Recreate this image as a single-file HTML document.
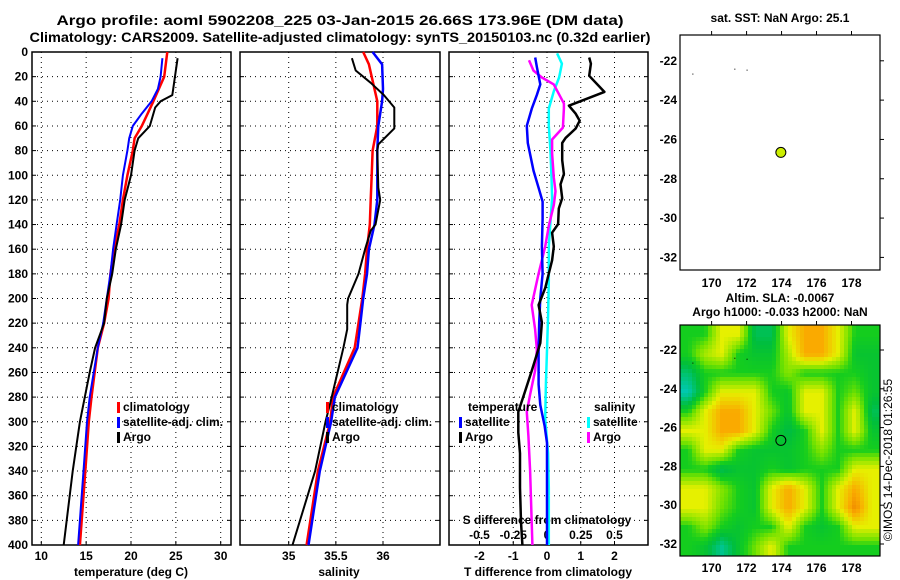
<!DOCTYPE html>
<html><head><meta charset="utf-8"><style>
html,body{margin:0;padding:0;background:#fff;}
svg{display:block;font-family:"Liberation Sans",Arial,sans-serif;font-weight:bold;}
</style></head><body>
<svg id="fig" width="900" height="580" viewBox="0 0 900 580" xmlns="http://www.w3.org/2000/svg">
<text x="340" y="25" font-size="14" text-anchor="middle" textLength="567" lengthAdjust="spacingAndGlyphs">Argo profile: aoml 5902208_225 03-Jan-2015 26.66S 173.96E (DM data)</text>
<text x="340" y="42" font-size="14" text-anchor="middle" textLength="621" lengthAdjust="spacingAndGlyphs">Climatology: CARS2009. Satellite-adjusted climatology: synTS_20150103.nc (0.32d earlier)</text>
<g id="g"></g>
<text x="780" y="22" font-size="12" text-anchor="middle">sat. SST: NaN Argo: 25.1</text>
<text x="780" y="302" font-size="12" text-anchor="middle">Altim. SLA: -0.0067</text>
<text x="780" y="316" font-size="12" text-anchor="middle">Argo h1000: -0.033 h2000: NaN</text>
<text transform="translate(892,460) rotate(-90)" font-size="12" font-weight="normal" text-anchor="middle">©IMOS 14-Dec-2018 01:26:55</text>
</svg>
<script>
// ---- data ----
const depthTicks=[0,20,40,60,80,100,120,140,160,180,200,220,240,260,280,300,320,340,360,380,400];
const tempTicks=[10,15,20,25,30];
const salTicks=[35,35.5,36];
const tdTicks=[-2,-1,0,1,2];
const sdTicks=[-0.5,-0.25,0,0.25,0.5];
const sdTickLabels=["-0.5","-0.25","0","0.25","0.5"];
const tClimDepth=[0,20,40,60,70,80,100,120,140,160,180,200,220,240,280,300,340,400];
const tClim=[24.05,23.7,22.5,21.2,20.4,20.2,19.6,19.1,18.7,18.1,17.7,17.5,17.0,16.3,15.6,15.3,14.9,14.3];
const tSatDepth=[5,20,30,40,50,60,70,80,100,120,140,160,180,200,220,240,280,300,340,400];
const tSat=[23.5,23.3,23.0,22.3,21.2,20.2,19.8,19.6,19.1,18.8,18.4,18.0,17.7,17.3,16.9,16.3,15.4,15.1,14.7,14.1];
const tArgoDepth=[5,30,35,40,45,60,70,80,100,120,140,160,180,200,220,240,260,300,340,400];
const tArgo=[25.2,24.7,24.6,23.3,22.7,22.1,20.8,20.4,20.0,19.3,18.9,18.3,17.9,17.3,17.0,16.0,15.4,14.3,13.5,12.5];
const sClimDepth=[0,10,20,40,60,80,100,120,140,160,180,200,220,240,280,300,340,400];
const sClim=[35.79,35.85,35.88,35.94,35.94,35.89,35.88,35.87,35.86,35.83,35.81,35.78,35.74,35.70,35.47,35.44,35.31,35.19];
const sSatDepth=[0,10,30,40,60,80,100,120,140,160,180,200,220,240,280,300,340,400];
const sSat=[35.89,35.99,36.0,35.99,35.95,35.94,35.94,35.94,35.91,35.85,35.83,35.79,35.76,35.73,35.49,35.45,35.33,35.21];
const sArgoDepth=[5,15,25,35,45,62,75,80,110,120,140,145,160,180,200,205,225,240,285,300,340,400];
const sArgo=[35.67,35.71,35.87,36.01,36.12,36.12,35.95,35.94,35.95,35.97,35.92,35.87,35.81,35.74,35.63,35.62,35.62,35.58,35.44,35.39,35.28,35.04];
const tdArgoDepth=[4.5,9.5,19.3,32.4,43.6,50.1,55.7,62.1,69.7,73.8,87.8,99,107.4,118.6,127,139.6,146.6,157.8,169,180.1,191.3,205.3,219.3,236.1,258.5,275.2,292,308.8,325.6,353.6,381.5,400];
const tdArgo=[1.25,1.3,1.25,1.7,0.65,0.85,0.97,0.85,0.55,0.45,0.45,0.5,0.4,0.45,0.35,0.33,0.15,0.2,0.15,0.05,-0.05,-0.25,-0.15,-0.2,-0.45,-0.65,-0.85,-0.85,-0.8,-0.8,-0.77,-0.73];
const tdSatDepth=[4.5,12.3,26.3,34.7,45.9,59.9,73.8,96.2,110.2,121.4,135.4,157.8,180.1,199.7,219.3,241.7,269.7,286.4,303.2,317.2,400];
const tdSat=[-0.35,-0.3,-0.2,-0.3,-0.45,-0.6,-0.57,-0.4,-0.25,-0.13,-0.13,-0.15,-0.13,-0.2,-0.23,-0.25,-0.25,-0.2,-0.07,0,0];
const sdSatDepth=[1.1,9.5,20.7,31.9,45.9,59.9,79.4,101.8,118.6,138.2,157.8,185.7,213.7,241.7,269.7,297.6,325.6,353.6,400];
const sdSat=[0.075,0.11,0.09,0.05,0.013,0.013,0.025,0.033,0.038,0.025,0.013,0.013,0.008,0,-0.008,-0.013,0.008,0.013,0.013];
const sdArgoDepth=[6.7,15.1,20.7,26.3,41.7,45.9,61.3,71,82.2,101.8,113,124.2,141,157.8,180.1,205.3,224.9,241.7,258.5,278,292,311.6,339.6,381.5,400];
const sdArgo=[-0.133,-0.1,-0.038,0.05,0.125,0.125,0.118,0.038,0.038,0.05,0.063,0.05,0.013,-0.013,-0.063,-0.113,-0.088,-0.075,-0.088,-0.125,-0.15,-0.138,-0.125,-0.113,-0.108];
const lonTicks=[170,172,174,176,178];
const latTicks=[-22,-24,-26,-28,-30,-32];
const argoLon=[173.96], argoLat=[-26.66];
const slaGrid=[
[1.5,1.5,3,3,0.8,0.8,3,4,4,3,1.5,1.5],
[1.5,2.5,3,1.5,1.2,1.2,2.5,4,4,3,1.2,1.2],
[0.6,1.5,1.5,1.5,1.5,1.5,2.2,1.5,1.5,1.5,1.5,1.2],
[0,1.5,3,3,3,1.5,1.3,3,3,1.5,2,1.2],
[1.5,3,4,4,3,2,1.2,3,3,1.5,3,0.8],
[3,3,4,4,3,1.5,0.9,1.5,3,1.5,3,1.2],
[1.5,3,3,1.5,1.2,1.2,1.2,1.5,2.2,1.5,1.5,1.5],
[1.5,1.5,0.8,1.2,1.2,1.5,1.2,1.5,1.5,1.5,3,3],
[3,3,2.2,1.5,1.2,3,4,3,1.5,3,4,3],
[3,3,2,1.5,1.2,3,4,3,1.5,3,4.5,3],
[1.5,2.2,1.5,1.2,1.5,1.5,3,1.5,1.2,1.5,3,3],
[1.5,1.2,0.3,1.2,2,3,1.5,1.5,1.5,1.5,1.5,1.5]];
const dotLon=[168.9,171.3,172.0], dotLat=[-22.65,-22.4,-22.45];

// ---- drawing ----
const NS="http://www.w3.org/2000/svg";
const G=document.getElementById('g');
function el(tag,attrs,parent){const e=document.createElementNS(NS,tag);for(const k in attrs)e.setAttribute(k,attrs[k]);(parent||G).appendChild(e);return e;}
const yTop=52,yBot=545;
function yD(d){return yTop+(d/400)*(yBot-yTop);}
function lin(d0,d1,p0,p1){return v=>p0+(v-d0)/(d1-d0)*(p1-p0);}
const xT=lin(10,30,41.3,220.7);
const xS=lin(35,36,288.7,383);
const xTD=lin(0,1,547,580.75);
const xSD=v=>xTD(v*4);
const panels=[[32,231,'temperature-panel'],[240,440,'salinity-panel'],[449,648,'difference-panel']];

panels.forEach((p,i)=>{
  const r=el('rect',{x:p[0],y:yTop,width:p[1]-p[0],height:yBot-yTop,fill:'#fff',stroke:'#000','stroke-width':1.5});
  
  
  depthTicks.forEach(d=>{
    if(d>0&&d<400){const l=el('line',{x1:p[0],x2:p[1],y1:yD(d),y2:yD(d),stroke:'#000','stroke-dasharray':'1,4'});
    
    }
    el('line',{x1:p[0],x2:p[0]+4,y1:yD(d),y2:yD(d),stroke:'#000'});
    el('line',{x1:p[1],x2:p[1]-4,y1:yD(d),y2:yD(d),stroke:'#000'});
  });
});
depthTicks.forEach(d=>{
  const t=el('text',{x:28,y:yD(d)+4,'font-size':12,'text-anchor':'end'});t.textContent=d;
  
  
});
function vgrid(ticks,sx,labelY,fmt){
  ticks.forEach((v,i)=>{
    const x=sx(v);
    const l=el('line',{x1:x,x2:x,y1:yTop,y2:yBot,stroke:'#000','stroke-dasharray':'1,4'});
    
    
    el('line',{x1:x,x2:x,y1:yBot,y2:yBot-4,stroke:'#000'});
    const t=el('text',{x:x,y:labelY,'font-size':12,'text-anchor':'middle'});t.textContent=fmt?fmt(v,i):v;
    
    
  });
}
vgrid(tempTicks,xT,560);
vgrid(salTicks,xS,560);
vgrid(tdTicks,xTD,560);
sdTicks.forEach((v,i)=>{
  const t=el('text',{x:xSD(v),y:539,'font-size':12,'text-anchor':'middle'});t.textContent=sdTickLabels[i];
  
  
});
[[131,'temperature (deg C)','temperature-axis-title'],[339,'salinity','salinity-axis-title'],[548,'T difference from climatology','t-diff-axis-title']].forEach(a=>{
  const t=el('text',{x:a[0],y:576,'font-size':12,'text-anchor':'middle'});t.textContent=a[1];
  
  
});
const st=el('text',{x:547,y:524,'font-size':12,'text-anchor':'middle'});st.textContent='S difference from climatology';



function line(ds,vs,sx,color,w,name){
  const pts=ds.map((d,i)=>sx(vs[i]).toFixed(1)+','+yD(d).toFixed(1)).join(' ');
  const l=el('polyline',{points:pts,fill:'none',stroke:color,'stroke-width':w,'stroke-linejoin':'round'});
  
  
}
line(tClimDepth,tClim,xT,'#f00',2.5,'temp-climatology-line');
line(tSatDepth,tSat,xT,'#00f',2,'temp-satellite-line');
line(tArgoDepth,tArgo,xT,'#000',2,'temp-argo-line');
line(sClimDepth,sClim,xS,'#f00',2.5,'sal-climatology-line');
line(sSatDepth,sSat,xS,'#00f',2.5,'sal-satellite-line');
line(sArgoDepth,sArgo,xS,'#000',2,'sal-argo-line');
line(sdSatDepth,sdSat,xSD,'#0ff',2.5,'s-diff-satellite-line');
line(sdArgoDepth,sdArgo,xSD,'#f0f',2.5,'s-diff-argo-line');
line(tdSatDepth,tdSat,xTD,'#00f',2.5,'t-diff-satellite-line');
line(tdArgoDepth,tdArgo,xTD,'#000',2.5,'t-diff-argo-line');

function legend(x,y,items,name){
  items.forEach((it,i)=>{
    const yy=y+i*15;
    if(it[1]){el('rect',{x:x,y:yy-9,width:3,height:11,fill:it[1]});}
    const t=el('text',{x:x+(it[1]?6:0),y:yy,'font-size':12});t.textContent=it[0];
    
    
  });
}
legend(117,411,[['climatology','#f00'],['satellite-adj. clim.','#00f'],['Argo','#000']],'temp-legend');
legend(326,411,[['climatology','#f00'],['satellite-adj. clim.','#00f'],['Argo','#000']],'sal-legend');
legend(468,411,[['temperature',null]],'tdiff-legend-title');
legend(459,426,[['satellite','#00f'],['Argo','#000']],'tdiff-legend');
legend(594,411,[['salinity',null]],'sdiff-legend-title');
legend(587,426,[['satellite','#0ff'],['Argo','#f0f']],'sdiff-legend');

// ---- maps ----
function colormap(v){
  const stops=[[0,[0,200,180]],[1,[0,190,60]],[1.5,[20,205,30]],[2,[110,225,0]],[3,[230,240,0]],[4,[250,170,0]],[4.5,[240,140,0]]];
  for(let i=1;i<stops.length;i++){if(v<=stops[i][0]){const a=stops[i-1],b=stops[i],f=(v-a[0])/(b[0]-a[0]);
    return 'rgb('+a[1].map((c,k)=>Math.round(c+(b[1][k]-c)*f)).join(',')+')';}}
  return 'rgb(240,140,0)';
}
function sample(grid,fr,fc){
  const nr=grid.length,nc=grid[0].length;
  fr=Math.max(0,Math.min(nr-1,fr));fc=Math.max(0,Math.min(nc-1,fc));
  const r0=Math.floor(fr),c0=Math.floor(fc),r1=Math.min(nr-1,r0+1),c1=Math.min(nc-1,c0+1);
  const a=fr-r0,b=fc-c0;
  return grid[r0][c0]*(1-a)*(1-b)+grid[r0][c1]*(1-a)*b+grid[r1][c0]*a*(1-b)+grid[r1][c1]*a*b;
}
function map(x0,x1,y0,y1,lat22y,lat32y,labelY,name,heat){
  const sx=lin(170,178,711.6,851.5), sy=lin(-22,-32,lat22y,lat32y);
  if(heat){
    const hg=el('g',{});
    
    
    const nr=heat.length,nc=heat[0].length,cs=4;
    for(let y=y0;y<y1;y+=cs){for(let x=x0;x<x1;x+=cs){
      const fc=((x+cs/2-x0)/(x1-x0))*nc-0.5, fr=((y+cs/2-y0)/(y1-y0))*nr-0.5;
      const v=sample(heat,fr,fc);
      const cell=el('rect',{x:x,y:y,width:Math.min(cs,x1-x)+0.3,height:Math.min(cs,y1-y)+0.3,fill:colormap(v)},hg);
      
      
    }}
  }
  const r=el('rect',{x:x0,y:y0,width:x1-x0,height:y1-y0,fill:heat?'none':'#fff',stroke:'#000','stroke-width':1.2});
  
  
  lonTicks.forEach(v=>{const x=sx(v);
    el('line',{x1:x,x2:x,y1:y0,y2:y0-4,stroke:'#000'});
    const t=el('text',{x:x,y:labelY,'font-size':12,'text-anchor':'middle'});t.textContent=v;
    
    });
  latTicks.forEach(v=>{const y=sy(v);
    el('line',{x1:x1,x2:x1+4,y1:y,y2:y,stroke:'#000'});
    const t=el('text',{x:x0-3,y:y+4,'font-size':12,'text-anchor':'end'});t.textContent=v;
    
    });
  dotLon.forEach((v,i)=>el('rect',{x:sx(v),y:sy(dotLat[i]),width:1,height:1,fill:'#000'}));
  argoLon.forEach((v,i)=>{const m=el('circle',{cx:sx(v),cy:sy(argoLat[i]),r:5,fill:heat?'none':'#ccee00',stroke:'#000','stroke-width':1});
    
    });
}
map(680,880,35,270,60.8,257.4,287,'sst-map',null);
map(680,880,325,556,350,544,572,'sla-map',slaGrid);
</script>
</body></html>
